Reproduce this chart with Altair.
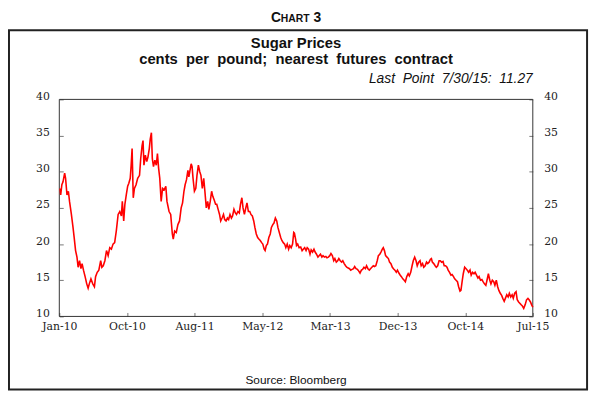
import altair as alt
import pandas as pd

# ---- data (days since 2010-01-01, cents per pound) ----
day_offsets = [
    3, 6, 11, 16, 23, 27, 33, 39, 44, 52, 59, 64, 70, 76, 81, 87, 93, 98, 104, 111,
    118, 124, 129, 136, 144, 151, 156, 163, 170, 178, 183, 189, 196, 203, 210, 217, 224, 231, 238, 245,
    253, 260, 267, 271, 277, 282, 288, 294, 299, 305, 309, 313, 318, 323, 330, 337, 345, 350, 356, 360,
    364, 370, 376, 381, 387, 391, 396, 400, 405, 411, 417, 422, 427, 432, 438, 444, 451, 458, 463,
    472, 479, 486, 490, 496, 503, 510, 517, 524, 530, 536, 541, 547, 553, 557, 561, 567, 571, 575, 581,
    587, 592, 598, 604, 609, 615, 621, 626, 632, 638, 643, 649, 655, 660, 666, 672, 677, 683, 689, 694,
    700, 706, 711, 717, 723, 728, 734, 740, 745, 751, 757, 762, 768, 774, 779, 785, 790, 796, 802, 807,
    813, 819, 824, 830, 836, 841, 847, 853, 858, 864, 870, 875, 881, 885, 890, 895, 901, 907, 912, 918,
    923, 929, 935, 940, 946, 952, 957, 963, 969, 974, 980, 986, 991,
    997, 1003, 1008, 1011, 1016, 1020, 1025, 1031, 1038, 1044, 1049, 1055, 1061, 1066, 1072, 1078, 1083, 1089, 1095, 1100,
    1106, 1112, 1117, 1123, 1129, 1134, 1140, 1146, 1151, 1157, 1163, 1168, 1174, 1180, 1185, 1191, 1197, 1202, 1208, 1214,
    1219, 1225, 1231, 1236, 1242, 1248, 1253, 1259, 1265, 1270, 1276, 1282, 1287, 1293, 1299, 1304, 1310, 1316, 1321, 1327,
    1333, 1338, 1344, 1350, 1355, 1361, 1367, 1372, 1378, 1383, 1389, 1393, 1398, 1403, 1409, 1415, 1420, 1426, 1432, 1437,
    1443, 1449, 1454, 1460, 1466, 1471, 1477, 1483, 1488, 1494, 1500,
    1505, 1511, 1517, 1522, 1528, 1534, 1539, 1545, 1551, 1556, 1562, 1567, 1573, 1579, 1584, 1590, 1596, 1600, 1604, 1610,
    1616, 1621, 1627, 1633, 1638, 1644, 1650, 1655, 1661, 1667, 1672, 1678, 1684, 1689, 1695, 1700, 1706, 1712, 1717, 1723,
    1727, 1732, 1737, 1743, 1749, 1754, 1760, 1766, 1771, 1777, 1783, 1788, 1794, 1800, 1805, 1811, 1817, 1822, 1828, 1834,
    1839, 1845, 1851, 1856, 1862, 1868, 1873, 1879, 1885, 1890, 1896, 1902, 1907, 1913, 1918, 1924, 1930, 1935, 1941, 1947,
    1952, 1958, 1964, 1969, 1975, 1981, 1986, 1992, 1997, 2003, 2009, 2015, 2020, 2026, 2031, 2036,
]
prices = [
    27.7, 26.8, 28.2, 28.6, 29.8, 29.1, 26.8, 27.3, 25.9, 24.1, 22.3, 20.9, 19.1, 18.2, 16.8, 17.7, 16.6, 17.3, 16.4, 15.5,
    14.5, 13.9, 14.5, 15.2, 14.5, 14.1, 15.5, 16.1, 16.4, 17.7, 16.8, 17.0, 17.7, 19.1, 18.4, 19.5, 19.3, 20.0, 20.2, 21.8,
    24.1, 24.5, 23.9, 25.9, 23.2, 25.5, 26.8, 28.0, 28.4, 29.1, 30.9, 33.2, 26.4, 27.7, 28.2, 29.1, 29.5, 31.8, 33.6, 34.3,
    30.9, 32.3, 31.4, 32.0, 33.2, 34.5, 35.4, 31.8, 30.7, 31.6, 30.9, 32.5, 30.5, 29.1, 25.9, 27.7, 27.5, 28.0, 25.9,
    24.5, 24.1, 21.4, 20.7, 21.8, 21.6, 22.7, 23.2, 25.0, 25.7, 27.3, 28.2, 28.9, 30.2, 29.3, 30.0, 31.1, 30.7, 29.1, 27.3,
    27.7, 29.5, 30.9, 30.0, 29.5, 27.7, 29.1, 27.3, 25.0, 25.9, 24.8, 25.9, 27.3, 26.6, 26.1, 25.5, 25.5, 24.8, 24.1, 23.2,
    23.6, 24.1, 23.4, 23.2, 23.6, 23.4, 24.1, 23.6, 23.9, 24.8, 24.3, 24.1, 24.5, 24.3, 25.5, 26.4, 25.0, 24.1, 25.0, 25.7,
    24.5, 24.5, 24.1, 23.9, 23.2, 22.3, 21.4, 20.9, 20.7, 20.5, 20.2, 20.0, 19.3, 19.1, 19.8, 20.0, 20.9, 21.4, 22.3, 22.7,
    22.9, 23.6, 23.2, 22.3, 21.6, 20.9, 20.5, 20.2, 20.0, 19.5, 20.0, 19.3, 19.8,
    19.5, 20.0, 21.6, 21.5, 20.7, 19.8, 20.0, 19.5, 19.6, 19.1, 19.3, 19.5, 19.1, 19.5, 19.3, 18.6, 19.2, 18.9, 19.3, 18.9,
    18.6, 18.2, 18.4, 18.6, 18.2, 18.4, 18.2, 18.3, 18.1, 18.2, 18.4, 18.7, 18.4, 17.7, 18.0, 17.5, 17.7, 18.0, 17.7, 17.5,
    17.7, 17.3, 17.0, 16.8, 16.7, 16.6, 16.4, 16.5, 16.6, 16.9, 16.6, 16.5, 16.3, 16.0, 16.4, 16.5, 16.8, 16.6, 17.0, 16.6,
    16.4, 16.6, 16.8, 17.0, 16.9, 17.0, 17.7, 18.4, 18.6, 18.9, 19.3, 19.5, 19.1, 18.4, 18.2, 18.0, 17.5, 17.3, 16.8, 16.6,
    16.4, 16.1, 16.4, 16.0, 15.7, 15.5, 15.2, 15.0, 14.8, 15.5, 15.9,
    15.6, 16.1, 17.0, 17.7, 18.2, 17.7, 17.0, 17.5, 17.7, 17.0, 17.3, 16.8, 17.0, 17.5, 17.3, 17.5, 17.9, 18.0, 17.5, 17.3,
    17.0, 16.8, 17.0, 17.7, 17.7, 17.5, 17.6, 17.0, 17.0, 16.8, 16.4, 16.1, 15.7, 15.8, 15.5, 15.2, 15.0, 14.8, 14.1, 13.5,
    13.6, 14.8, 15.9, 16.8, 16.6, 16.4, 16.1, 16.4, 15.7, 16.1, 15.9, 16.1, 15.7, 15.3, 15.5, 15.0, 15.1, 14.8, 14.5, 14.3,
    15.0, 15.9, 15.0, 14.5, 15.0, 14.8, 14.3, 15.0, 14.1, 13.6, 13.2, 12.9, 12.5, 12.1, 12.5, 13.0, 12.7, 13.2, 12.7, 13.0,
    12.5, 13.2, 13.4, 12.3, 12.0, 11.8, 11.6, 11.4, 11.1, 11.6, 12.3, 12.5, 12.3, 12.0, 11.6, 11.27,
]
tick_dates = ["2010-01-01", "2010-10-19", "2011-08-06", "2012-05-23",
              "2013-03-10", "2013-12-26", "2014-10-13", "2015-07-30"]
y_ticks = [10, 15, 20, 25, 30, 35, 40]

chart_label = ["C", "HART", "3"]
title_text = "Sugar Prices"
subtitle_text = "cents\u00a0 per\u00a0 pound;\u00a0 nearest\u00a0 futures\u00a0 contract"
last_point_text = "Last\u00a0 Point\u00a0 7/30/15:\u00a0 11.27"
source_text = "Source: Bloomberg"

base_date = pd.Timestamp("2010-01-01")
df = pd.DataFrame({
    "date": base_date + pd.to_timedelta(day_offsets, unit="D"),
    "price": prices,
})


def dt(s):
    t = pd.Timestamp(s)
    return alt.DateTime(year=t.year, month=t.month, date=t.day)


SERIF = "DejaVu Serif"
SANS = "Liberation Sans"

x_scale = alt.Scale(domain=[dt(tick_dates[0]), dt(tick_dates[-1])], nice=False)
y_scale = alt.Scale(domain=[10, 40], nice=False, zero=False)

common_axis = dict(
    labelFont=SERIF, labelFontSize=11, labelColor="#222",
    tickColor="#777", tickSize=4, tickWidth=1, domain=False, grid=False,
    offset=-4, title=None,
)

x_axis = alt.Axis(values=[dt(s) for s in tick_dates], format="%b-%y",
                  labelPadding=4, labelFlush=False, labelOverlap=False,
                  **common_axis)
y_left = alt.Axis(values=y_ticks, orient="left", labelPadding=10,
                  labelOffset=-3, **common_axis)
y_right = alt.Axis(values=y_ticks, orient="right", labelPadding=11,
                   labelOffset=-3, **common_axis)

line = alt.Chart(df).mark_line(color="#ff0000", strokeWidth=1.6).encode(
    x=alt.X("date:T", scale=x_scale, axis=x_axis),
    y=alt.Y("price:Q", scale=y_scale, axis=y_left),
)
line_right = alt.Chart(df).mark_line(strokeOpacity=0).encode(
    x=alt.X("date:T", scale=x_scale, axis=x_axis),
    y=alt.Y("price:Q", scale=y_scale, axis=y_right),
)


def text_layer(txt, x, y, size, weight="normal", style="normal", align="center", font=SANS):
    return alt.Chart(pd.DataFrame({"t": [txt]})).mark_text(
        font=font, fontSize=size, fontWeight=weight, fontStyle=style,
        align=align, baseline="alphabetic", color="#111",
    ).encode(text="t:N", x=alt.value(x), y=alt.value(y))


texts = [
    text_layer(chart_label[0], 214.5, -78, 14, weight="bold", align="left"),
    text_layer(chart_label[1], 224.6, -78, 10.5, weight="bold", align="left"),
    text_layer(chart_label[2], 257.7, -78, 14, weight="bold", align="left"),
    text_layer(title_text, 240, -52, 15, weight="bold"),
    text_layer(subtitle_text, 240, -36, 15, weight="bold"),
    text_layer(last_point_text, 480, -17, 14, style="italic", align="right"),
    text_layer(source_text, 240, 288, 12),
]

frame = alt.Chart(pd.DataFrame({"k": [0]})).mark_rect(
    filled=False, stroke="#222", strokeWidth=2
).encode(x=alt.value(-51), x2=alt.value(535), y=alt.value(-70), y2=alt.value(294))

plot_box = alt.Chart(pd.DataFrame({"k": [0]})).mark_rect(
    filled=False, stroke="#333", strokeWidth=1
).encode(x=alt.value(0), x2=alt.value(480), y=alt.value(0), y2=alt.value(220))

chart = alt.layer(frame, plot_box, line_right, line, *texts).resolve_axis(
    y="independent"
).resolve_scale(y="shared").properties(
    width=480, height=220,
    background="white",
    autosize=alt.AutoSizeParams(type="none"),
    padding={"left": 52, "top": 90, "right": 60, "bottom": 77},
).configure_view(stroke=None)

chart.save("out.html", embed_options={"renderer": "svg", "actions": False})
